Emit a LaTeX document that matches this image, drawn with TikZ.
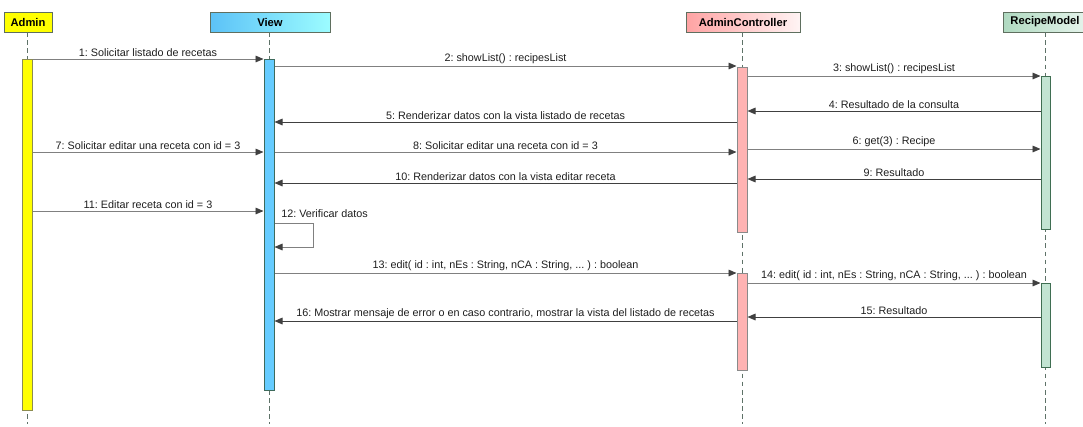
\documentclass[tikz,border=0pt]{standalone}
\usepackage{fontspec}
\setmainfont{Liberation Sans}
\usetikzlibrary{arrows.meta,shadows,fit}

\definecolor{hdborder}{HTML}{5F6F5F}
\definecolor{llcol}{HTML}{5E7268}
\definecolor{callgray}{HTML}{808080}
\definecolor{retgray}{HTML}{404040}
\definecolor{tipgray}{HTML}{404040}
\definecolor{txtcol}{HTML}{1E1E1E}
\definecolor{adminfill}{HTML}{FFFF00}
\definecolor{adminedge}{HTML}{8C8C50}
\definecolor{viewL}{HTML}{5CC2F7}
\definecolor{viewR}{HTML}{9CFCFF}
\definecolor{viewbarfill}{HTML}{66CCFF}
\definecolor{viewedge}{HTML}{3E6A5C}
\definecolor{acL}{HTML}{FFA3A3}
\definecolor{acR}{HTML}{FFF4F4}
\definecolor{acbarfill}{HTML}{FFB3B3}
\definecolor{acedge}{HTML}{8A8A8A}
\definecolor{rmL}{HTML}{AFD9C0}
\definecolor{rmR}{HTML}{E6F4EC}
\definecolor{rmbarfill}{HTML}{C2E4D2}
\definecolor{rmedge}{HTML}{3F6E52}

\begin{document}
\frenchspacing
\begin{tikzpicture}[x=0.75pt, y=-0.75pt,
  head/.style={draw=hdborder, line width=0.75pt, inner sep=0pt,
    minimum height=15pt, font=\fontsize{8.4pt}{10pt}\selectfont\bfseries,
    drop shadow={shadow xshift=1.1pt, shadow yshift=-1.1pt, fill=black!50, opacity=0.5}},
  lifeline/.style={draw=llcol, line width=0.6pt, dash pattern=on 3.5pt off 2.6pt},
  actbar/.style={draw, line width=0.75pt, inner sep=0pt},
  call/.style={draw=callgray, line width=0.7pt,
    -{Triangle[length=6pt, width=5pt, color=tipgray]}},
  ret/.style={draw=retgray, line width=0.7pt,
    -{Triangle[length=6pt, width=5pt, color=tipgray]}},
  lbl/.style={font=\fontsize{8.1pt}{10pt}\selectfont, text=txtcol, inner sep=1.6pt, above}
]
\useasboundingbox (0,0) rectangle (1083,426);

% participant headers
\node[head, fill=adminfill, minimum width=36pt] (admin) at (28,22) {Admin};
\node[head, left color=viewL, right color=viewR, minimum width=90pt] (view) at (270,22) {View};
\node[head, left color=acL, right color=acR, minimum width=85.5pt] (ctrl) at (743,22) {AdminController};
\node[head, left color=rmL, right color=rmR, minimum width=63pt] (model) at (1045,22) {RecipeModel};

% lifelines
\draw[lifeline] (27,32) -- (27,424);
\draw[lifeline] (269,32) -- (269,424);
\draw[lifeline] (742,32) -- (742,424);
\draw[lifeline] (1045,32) -- (1045,424);

% activation bars
\node[actbar, draw=adminedge, fill=adminfill, fit={(22,59) (32,410)}] (adminbar) {};
\node[actbar, draw=viewedge, fill=viewbarfill, fit={(264,59) (274,390)}] (viewbar) {};
\node[actbar, draw=acedge, fill=acbarfill, fit={(737,67) (747,232)}] (ctrlbarA) {};
\node[actbar, draw=acedge, fill=acbarfill, fit={(737,273) (747,370)}] (ctrlbarB) {};
\node[actbar, draw=rmedge, fill=rmbarfill, fit={(1041,76) (1050,229)}] (modelbarA) {};
\node[actbar, draw=rmedge, fill=rmbarfill, fit={(1041,283) (1050,367)}] (modelbarB) {};

% messages
\draw[call] (adminbar.east |- 0,59) -- node[lbl] {1: Solicitar listado de recetas} (viewbar.west |- 0,59);
\draw[call] (viewbar.east |- 0,66) -- node[lbl] {2: showList() : recipesList} (ctrlbarA.west |- 0,66);
\draw[call] (ctrlbarA.east |- 0,76) -- node[lbl] {3: showList() : recipesList} (modelbarA.west |- 0,76);
\draw[ret] (modelbarA.west |- 0,111) -- node[lbl] {4: Resultado de la consulta} (ctrlbarA.east |- 0,111);
\draw[ret] (ctrlbarA.west |- 0,122) -- node[lbl] {5: Renderizar datos con la vista listado de recetas} (viewbar.east |- 0,122);
\draw[call] (ctrlbarA.east |- 0,149) -- node[lbl] {6: get(3) : Recipe} (modelbarA.west |- 0,149);
\draw[call] (adminbar.east |- 0,152) -- node[lbl] {7: Solicitar editar una receta con id = 3} (viewbar.west |- 0,152);
\draw[call] (viewbar.east |- 0,152) -- node[lbl] {8: Solicitar editar una receta con id = 3} (ctrlbarA.west |- 0,152);
\draw[ret] (modelbarA.west |- 0,179) -- node[lbl] {9: Resultado} (ctrlbarA.east |- 0,179);
\draw[ret] (ctrlbarA.west |- 0,183) -- node[lbl] {10: Renderizar datos con la vista editar receta} (viewbar.east |- 0,183);
\draw[call] (adminbar.east |- 0,211) -- node[lbl] {11: Editar receta con id = 3} (viewbar.west |- 0,211);
\draw[call] (viewbar.east |- 0,223) -| (313,247) -- (viewbar.east |- 0,247);
\node[font=\fontsize{8.1pt}{10pt}\selectfont, text=txtcol, inner sep=0pt, anchor=west] (selflbl) at (281,214) {12: Verificar datos};
\draw[call] (viewbar.east |- 0,273) -- node[lbl] {13: edit( id : int, nEs : String, nCA : String, ... ) : boolean} (ctrlbarB.west |- 0,273);
\draw[call] (ctrlbarB.east |- 0,283) -- node[lbl] {14: edit( id : int, nEs : String, nCA : String, ... ) : boolean} (modelbarB.west |- 0,283);
\draw[ret] (modelbarB.west |- 0,317) -- node[lbl] {15: Resultado} (ctrlbarB.east |- 0,317);
\draw[ret] (ctrlbarB.west |- 0,321) -- node[lbl] {16: Mostrar mensaje de error o en caso contrario, mostrar la vista del listado de recetas} (viewbar.east |- 0,321);
\end{tikzpicture}
\end{document}
